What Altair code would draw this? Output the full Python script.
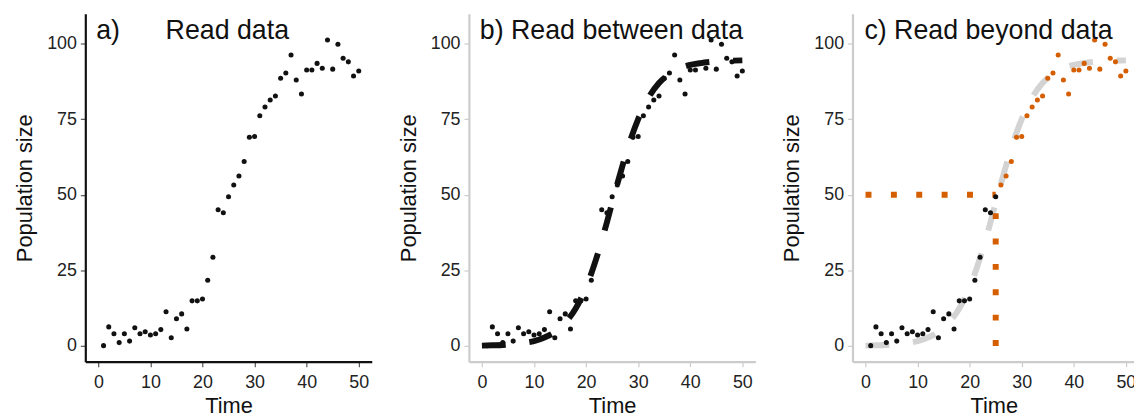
import altair as alt
import pandas as pd

# ---- data ----
time = list(range(1, 51))
population = [0.1, 6.3, 4.0, 1.1, 4.0, 1.6, 6.0, 4.0, 4.7, 3.6,
              4.0, 5.4, 11.3, 2.7, 9.0, 10.6, 5.6, 14.9, 14.9, 15.5,
              21.7, 29.3, 45.0, 44.0, 49.3, 53.2, 56.2, 61.0, 69.0, 69.2,
              76.1, 79.0, 81.3, 82.6, 88.5, 90.2, 96.2, 87.9, 83.3, 91.2,
              91.2, 93.4, 91.8, 101.1, 91.5, 99.7, 95.1, 93.9, 89.2, 90.9]

fit_time = [0, 2, 4, 6, 8, 10, 12, 14, 16, 18, 20, 22, 24, 25, 26, 28, 30,
            32, 34, 36, 38, 40, 42, 44, 46, 48, 50]
fit_value = [0.1, 0.2, 0.3, 0.6, 1.0, 1.6, 2.8, 4.6, 7.7, 12.4, 19.4, 29.1,
             40.9, 47.3, 53.6, 65.4, 75.0, 82.1, 86.9, 89.9, 91.8, 92.9,
             93.5, 93.9, 94.2, 94.3, 94.4]

guide_segment = ["h", "h", "v", "v"]
guide_time = [0, 25, 25, 25]
guide_value = [50, 50, 0, 50]
cutoff_time = 25

panel_labels = ["a)", "b) Read between data", "c) Read beyond data"]
extra_label = "Read data"

# ---- tables ----
pts = pd.DataFrame({"t": time, "y": population})
pts["phase"] = ["seen" if t <= cutoff_time else "beyond" for t in time]
fit = pd.DataFrame({"t": fit_time, "y": fit_value})
guide = pd.DataFrame({"seg": guide_segment, "t": guide_time, "y": guide_value})

X_DOM = [-2.5, 52.5]
X_DOM_C = [-2.5, 51.75]   # right panel is cut by the picture edge
Y_DOM = [-5.2, 109.8]
W, H = 289, 351
W_C = 285
ORANGE = "#D55E00"
FONT = "Liberation Sans"


def axes(dark, xdom):
    dom_col = "#111111" if dark else "#cccccc"
    tick_col = "#555555" if dark else "#cccccc"
    common = dict(grid=False, domainColor=dom_col, domainWidth=2.2,
                  tickColor=tick_col, tickSize=5, tickWidth=1.2,
                  labelFontSize=18, labelColor="#222222", labelFont=FONT,
                  titleFontSize=22, titleFont=FONT, titleColor="#111111",
                  titleFontWeight="normal")
    x = alt.X("t:Q", scale=alt.Scale(domain=xdom, nice=False, zero=False),
              axis=alt.Axis(values=[0, 10, 20, 30, 40, 50], title="Time",
                            titlePadding=4, labelPadding=7, **common))
    y = alt.Y("y:Q", scale=alt.Scale(domain=Y_DOM, nice=False, zero=False),
              axis=alt.Axis(values=[0, 25, 50, 75, 100], title="Population size",
                            titlePadding=10, labelPadding=4, **common))
    return x, y


def label(text, xpos):
    return alt.Chart(pd.DataFrame({"lab": [text]})).mark_text(
        align="left", baseline="alphabetic", fontSize=27, font=FONT, color="#111111"
    ).encode(text="lab:N", x=alt.value(xpos), y=alt.value(25))


# panel a
xa, ya = axes(True, X_DOM)
pa = alt.Chart(pts).mark_circle(size=26, color="#111111", opacity=1).encode(x=xa, y=ya)
panel_a = alt.layer(pa, label(panel_labels[0], 11), label(extra_label, 81)).properties(width=W, height=H)

# panel b
xb, yb = axes(False, X_DOM)
pb = alt.Chart(pts).mark_circle(size=26, color="#111111", opacity=1).encode(x=xb, y=yb)
fb = alt.Chart(fit).mark_line(color="#111111", strokeWidth=6, strokeDash=[24, 24],
                              strokeCap="butt", interpolate="monotone").encode(x=xb, y=yb)
panel_b = alt.layer(pb, fb, label(panel_labels[1], 11)).properties(width=W, height=H)

# panel c
xc, yc = axes(False, X_DOM_C)
fc = alt.Chart(fit).mark_line(color="#d3d3d3", strokeWidth=6, strokeDash=[24, 24],
                              strokeCap="butt", interpolate="monotone").encode(x=xc, y=yc)
gc = alt.Chart(guide).mark_line(color=ORANGE, strokeWidth=6, strokeDash=[6, 19.6],
                                strokeCap="butt").encode(x=xc, y=yc, detail="seg:N")
pc = alt.Chart(pts).mark_circle(size=26, opacity=1).encode(
    x=xc, y=yc,
    color=alt.Color("phase:N", scale=alt.Scale(domain=["seen", "beyond"],
                                               range=["#111111", ORANGE]), legend=None))
panel_c = alt.layer(fc, gc, pc, label(panel_labels[2], 12)).properties(width=W_C, height=H)

chart = alt.hconcat(panel_a, panel_b, panel_c, spacing=25).properties(
    padding={"left": 5, "top": 4, "right": -4, "bottom": 0}
).configure_view(stroke=None).configure_concat(spacing=25)

chart.save("out.html", embed_options={"renderer": "svg", "actions": False})
